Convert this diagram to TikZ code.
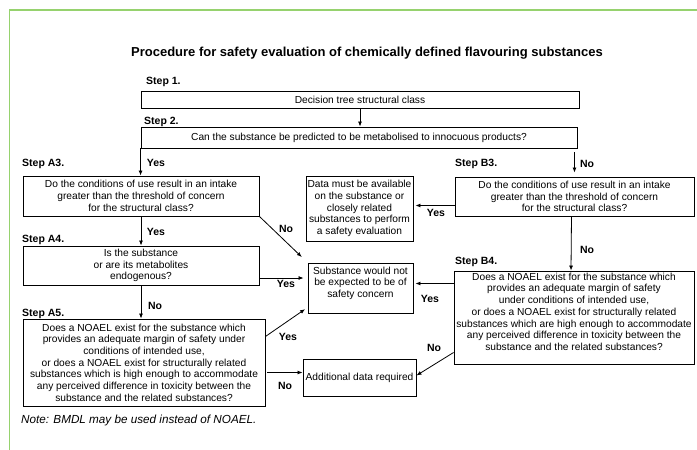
\documentclass[tikz,border=0pt]{standalone}
\usepackage{fontspec}
\setmainfont{Liberation Sans}
\usetikzlibrary{arrows.meta,calc}
\definecolor{framegreen}{RGB}{150,210,110}
\tikzstyle{box}=[draw, line width=0.9pt, align=center, inner sep=0.5pt, font=\fontsize{10.2}{11.7}\selectfont]
\tikzstyle{steplbl}=[anchor=west, inner sep=0pt, font=\fontsize{10.5}{12}\selectfont\bfseries]
\tikzstyle{lbl}=[inner sep=0pt, font=\fontsize{10.5}{12}\selectfont\bfseries]
\tikzstyle{arr}=[-{Latex[length=5pt,width=4pt]}, line width=0.8pt]
\begin{document}
\begin{tikzpicture}[x=1pt,y=-1pt]
\useasboundingbox (0,0) rectangle (697,450);
\draw[framegreen, line width=1.8pt] (9.5,451) -- (9.5,10) -- (698,10);
\node[font=\fontsize{13}{15}\selectfont\bfseries] (title) at (367,53) {Procedure for safety evaluation of chemically defined flavouring substances};
% step labels
\foreach \n/\x/\y in {1/146/82, 2/144/122, A3/22/164, B3/455/164, A4/22/240, A5/22/314, B4/455/262}
  \node[steplbl] (step\n) at (\x,\y) {Step \n.};
% boxes
\node[box, minimum width=438pt, minimum height=17pt] (s1) at (360,99.5) {Decision tree structural class};
\node[box, minimum width=436pt, minimum height=21pt] (s2) at (359,137.5) {Can the substance be predicted to be metabolised to innocuous products?};
\node[box, minimum width=236pt, minimum height=40pt] (a3) at (141,196) {Do the conditions of use result in an intake\\ greater than the threshold of concern\\ for the structural class?};
\node[box, minimum width=239pt, minimum height=39pt] (b3) at (574.5,196.5) {Do the conditions of use result in an intake\\ greater than the threshold of concern\\ for the structural class?};
\node[box, minimum width=107pt, minimum height=65pt] (data) at (359.5,208.5) {Data must be available\\ on the substance or\\ closely related\\ substances to perform\\ a safety evaluation};
\node[box, minimum width=105pt, minimum height=50pt] (subst) at (360.5,288) {Substance would not\\ be expected to be of\\ safety concern\\ \mbox{}};
\node[box, minimum width=236pt, minimum height=39pt] (a4) at (141,265.5) {Is the substance\\ or are its metabolites\\ endogenous?};
\node[box, minimum width=242pt, minimum height=87pt] (a5) at (144,362.5) {Does a NOAEL exist for the substance which\\ provides an adequate margin of safety under\\ conditions of intended use,\\ or does a NOAEL exist for structurally related\\ substances which is high enough to accommodate\\ any perceived difference in toxicity between the\\ substance and the related substances?};
\node[box, minimum width=240pt, minimum height=93pt] (b4) at (574,317.5) {Does a NOAEL exist for the substance which\\ provides an adequate margin of safety\\ under conditions of intended use,\\ or does a NOAEL exist for structurally related\\ substances which are high enough to accommodate\\ any perceived difference in toxicity between the\\ substance and the related substances?\\ \mbox{}};
\node[box, minimum width=113pt, minimum height=37pt] (add) at (359.5,377.5) {Additional data required};
\node[anchor=west, inner sep=0pt, font=\fontsize{11.7}{13}\selectfont\itshape] (note) at (21,420) {Note: BMDL may be used instead of NOAEL.};
% connectors
\coordinate (b3y) at ([yshift=-9pt]b3.west);
\coordinate (a4y) at ([yshift=-12.5pt]a4.east);
\coordinate (b4y) at ([yshift=34pt]b4.west);
\coordinate (addy) at ([yshift=5pt]add.west);
\draw[arr] (s1.south) -- (s1.south |- s2.north);
\draw[arr] (s2.south west) -- (s2.south west |- a3.north);
\draw[arr, shorten <=4pt, shorten >=4pt] (s2.south -| b3.north) -- (b3.north);
\draw[arr, shorten >=2pt] (b3y) -- (b3y -| data.east);
\draw[arr, shorten >=8pt] (a3.south east) -- (subst.north west);
\draw[arr] (a3.south) -- (a4.north);
\draw[arr, shorten >=4pt] (a4y) -- (a4y -| subst.west);
\draw[arr] (a4.south) -- (a4.south |- a5.north);
\draw[arr, shorten >=3pt] ([yshift=26pt]a5.east) -- ([yshift=6pt]subst.south west);
\draw[arr, shorten <=2pt] (addy -| a5.east) -- (addy);
\draw[arr] ([xshift=-3pt]b3.south) -- ([xshift=-3pt]b4.north);
\draw[arr, shorten >=2pt] (b4y) -- (b4y -| subst.east);
\draw[arr] ([yshift=-35pt]b4.west) -- ([yshift=2pt]add.east);
% connector labels
\foreach \n/\x/\y/\t in {yesA3/156/163/Yes, noB3/587/164/No, noA3/286/229/No, yesB3/436/213/Yes,
  yesA4/156/232/Yes, yesSub/286/284/Yes, noA4/155/306/No, yesA5/288/337/Yes, noA5/285/386/No,
  noB4/587/250/No, yesB4/430/299/Yes, noAdd/434/348/No}
  \node[lbl] (\n) at (\x,\y) {\t};
\end{tikzpicture}
\end{document}
